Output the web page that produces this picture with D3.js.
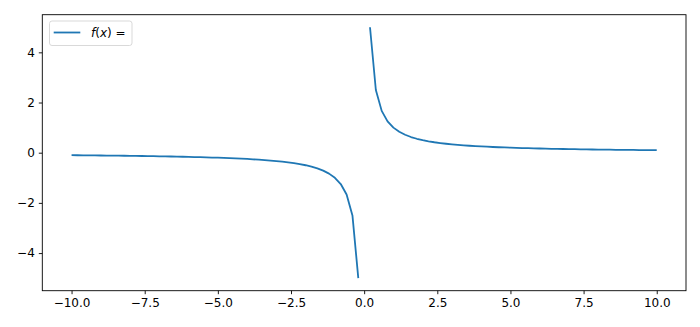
<!DOCTYPE html>
<html><head><meta charset="utf-8">
<script src="https://cdn.jsdelivr.net/npm/d3@7"></script>
<style>body{margin:0;background:#fff}svg{display:block}text{font-family:"DejaVu Sans",sans-serif}</style>
</head><body>
<svg id="chart" width="700" height="327"></svg>
<script>
// Data: two branches of the curve (broken near x = 0)
const xNeg = [-10,-9.8,-9.6,-9.4,-9.2,-9,-8.8,-8.6,-8.4,-8.2,-8,-7.8,-7.6,-7.4,-7.2,-7,-6.8,-6.6,-6.4,-6.2,-6,-5.8,-5.6,-5.4,-5.2,-5,-4.8,-4.6,-4.4,-4.2,-4,-3.8,-3.6,-3.4,-3.2,-3,-2.8,-2.6,-2.4,-2.2,-2,-1.8,-1.6,-1.4,-1.2,-1,-0.8,-0.6,-0.4,-0.2];
const yNeg = [-0.1,-0.102,-0.1042,-0.1064,-0.1087,-0.1111,-0.1136,-0.1163,-0.119,-0.122,-0.125,-0.1282,-0.1316,-0.1351,-0.1389,-0.1429,-0.1471,-0.1515,-0.1563,-0.1613,-0.1667,-0.1724,-0.1786,-0.1852,-0.1923,-0.2,-0.2083,-0.2174,-0.2273,-0.2381,-0.25,-0.2632,-0.2778,-0.2941,-0.3125,-0.3333,-0.3571,-0.3846,-0.4167,-0.4545,-0.5,-0.5556,-0.625,-0.7143,-0.8333,-1,-1.25,-1.6667,-2.5,-5];
const xPos = [0.2,0.4,0.6,0.8,1,1.2,1.4,1.6,1.8,2,2.2,2.4,2.6,2.8,3,3.2,3.4,3.6,3.8,4,4.2,4.4,4.6,4.8,5,5.2,5.4,5.6,5.8,6,6.2,6.4,6.6,6.8,7,7.2,7.4,7.6,7.8,8,8.2,8.4,8.6,8.8,9,9.2,9.4,9.6,9.8,10];
const yPos = [5,2.5,1.6667,1.25,1,0.8333,0.7143,0.625,0.5556,0.5,0.4545,0.4167,0.3846,0.3571,0.3333,0.3125,0.2941,0.2778,0.2632,0.25,0.2381,0.2273,0.2174,0.2083,0.2,0.1923,0.1852,0.1786,0.1724,0.1667,0.1613,0.1563,0.1515,0.1471,0.1429,0.1389,0.1351,0.1316,0.1282,0.125,0.122,0.119,0.1163,0.1136,0.1111,0.1087,0.1064,0.1042,0.102,0.1];
const xTicks = [-10,-7.5,-5,-2.5,0,2.5,5,7.5,10];
const yTicks = [-4,-2,0,2,4];
const xDomain = [-11, 11];
const yDomain = [-5.5, 5.5];

const svg = d3.select("#chart");
const L = 42.3, R = 686, T = 14.7, B = 290.7;
const x = d3.scaleLinear().domain(xDomain).range([L, R]);
const y = d3.scaleLinear().domain(yDomain).range([B, T]);
const minus = s => s.replace("-", "\u2212");

const xAxis = svg.append("g").attr("transform", `translate(0,${B})`)
  .call(d3.axisBottom(x).tickValues(xTicks).tickSize(3.5).tickPadding(4)
    .tickFormat(d => minus(d3.format(".1f")(d))));
const yAxis = svg.append("g").attr("transform", `translate(${L},0)`)
  .call(d3.axisLeft(y).tickValues(yTicks).tickSize(3.5).tickPadding(4)
    .tickFormat(d => minus(String(d))));
[xAxis, yAxis].forEach(g => {
  g.select(".domain").remove();
  g.selectAll("line").attr("stroke", "#000").attr("stroke-width", 0.9);
  g.selectAll("text").attr("font-size", 12).attr("fill", "#000")
    .attr("font-family", "DejaVu Sans");
});

const line = d3.line().x(d => x(d[0])).y(d => y(d[1]));
const branches = [d3.zip(xNeg, yNeg), d3.zip(xPos, yPos)];
svg.append("g").selectAll("path").data(branches).join("path")
  .attr("d", line).attr("fill", "none").attr("stroke", "#1f77b4")
  .attr("stroke-width", 1.8).attr("stroke-linejoin", "round").attr("stroke-linecap", "butt");

svg.append("rect").attr("x", L).attr("y", T).attr("width", R - L).attr("height", B - T)
  .attr("fill", "none").attr("stroke", "#000").attr("stroke-width", 0.9);

// legend
const lg = svg.append("g");
lg.append("rect").attr("x", 49.5).attr("y", 21).attr("width", 82.5).attr("height", 24.5)
  .attr("rx", 2.5).attr("fill", "#fff").attr("fill-opacity", 0.8)
  .attr("stroke", "#d5d5d5").attr("stroke-width", 0.9);
lg.append("line").attr("x1", 53.7).attr("x2", 80.3).attr("y1", 32.5).attr("y2", 32.5)
  .attr("stroke", "#1f77b4").attr("stroke-width", 1.8);
const t = lg.append("text").attr("x", 91).attr("y", 37.3).attr("font-size", 12).attr("fill", "#000");
t.append("tspan").attr("font-style", "italic").text("f");
t.append("tspan").text("(");
t.append("tspan").attr("font-style", "italic").text("x");
t.append("tspan").text(") =");
</script>
</body></html>
